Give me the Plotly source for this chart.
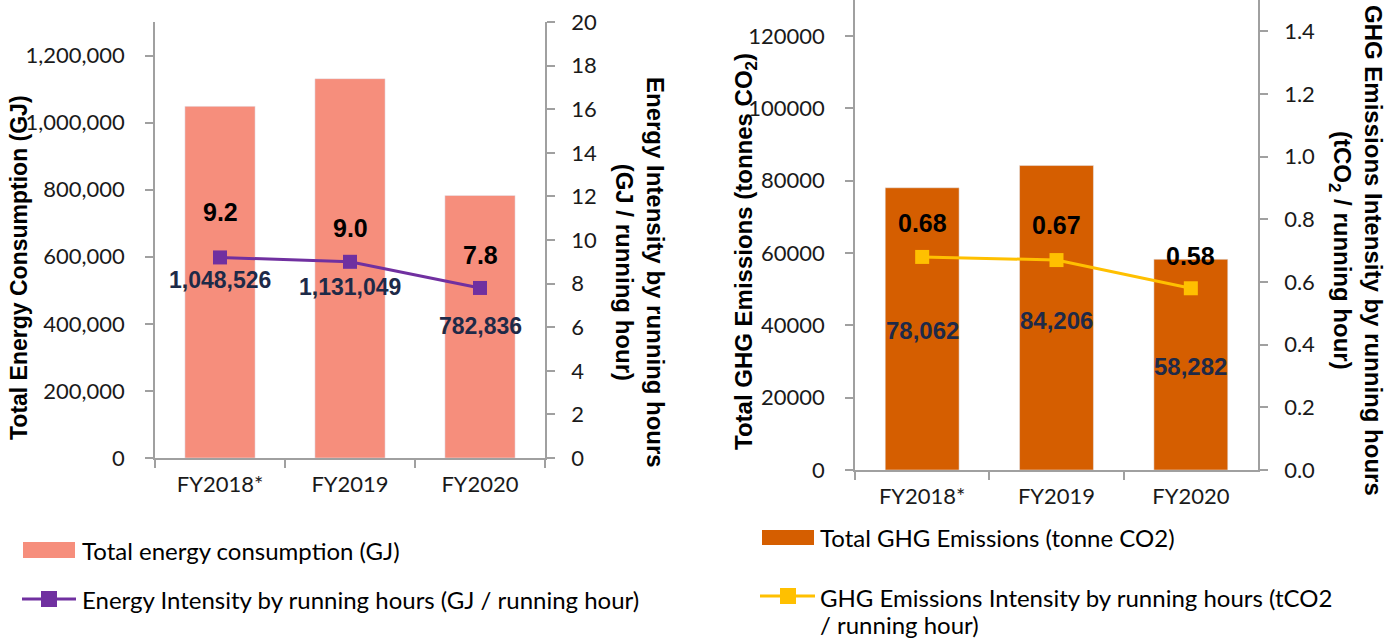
import plotly.graph_objects as go

# ---- data ----
years = ["FY2018*", "FY2019", "FY2020"]
energy_gj = [1048526, 1131049, 782836]
energy_intensity = [9.2, 9.0, 7.8]
ghg_tonnes = [78062, 84206, 58282]
ghg_intensity = [0.68, 0.67, 0.58]

# ---- styling ----
W, H = 1396, 641
PINK = "#F68E7C"
PURPLE = "#7030A0"
ORANGE = "#D55E00"
YELLOW = "#FFC000"
NAVY = "#1E2A48"
AXIS_GREY = "#A0A0A0"
TICK_FONT = dict(family="Lato, Liberation Sans, Arial", size=22, color="#1a1a1a")
LABEL_FONT = "Liberation Sans, Arial"

# vertical nudges (px) for value labels
energy_int_shift = [45, 34, 33]
energy_bar_shift = [2, -19, 1]
ghg_int_shift = [34, 35, 32]
ghg_bar_shift = [-2, -3, -2]


def px(x):
    return x / W


def py(y):
    return 1 - y / H


fig = go.Figure()

# left panel: energy
fig.add_trace(go.Bar(x=years, y=energy_gj, marker_color=PINK, width=0.54,
                     xaxis="x", yaxis="y", showlegend=False))
fig.add_trace(go.Scatter(x=years, y=energy_intensity, mode="lines+markers",
                         line=dict(color=PURPLE, width=3),
                         marker=dict(symbol="square", size=14, color=PURPLE),
                         xaxis="x", yaxis="y2", showlegend=False))

# right panel: GHG
fig.add_trace(go.Bar(x=years, y=ghg_tonnes, marker_color=ORANGE, width=0.55,
                     xaxis="x2", yaxis="y3", showlegend=False))
fig.add_trace(go.Scatter(x=years, y=ghg_intensity, mode="lines+markers",
                         line=dict(color=YELLOW, width=3),
                         marker=dict(symbol="square", size=14, color=YELLOW),
                         xaxis="x2", yaxis="y4", showlegend=False))

annotations = []

# value labels
for i, yr in enumerate(years):
    annotations.append(dict(x=yr, y=energy_intensity[i], xref="x", yref="y2",
                            text=f"{energy_intensity[i]:.1f}", showarrow=False,
                            yshift=energy_int_shift[i],
                            font=dict(family=LABEL_FONT, size=25, color="black", weight="bold")))
    annotations.append(dict(x=yr, y=energy_gj[i] / 2, xref="x", yref="y",
                            text=f"{energy_gj[i]:,}", showarrow=False,
                            yshift=energy_bar_shift[i],
                            font=dict(family=LABEL_FONT, size=23, color=NAVY, weight="bold")))
    annotations.append(dict(x=yr, y=ghg_intensity[i], xref="x2", yref="y4",
                            text=f"{ghg_intensity[i]:.2f}", showarrow=False,
                            yshift=ghg_int_shift[i],
                            font=dict(family=LABEL_FONT, size=25, color="black", weight="bold")))
    annotations.append(dict(x=yr, y=ghg_tonnes[i] / 2, xref="x2", yref="y3",
                            text=f"{ghg_tonnes[i]:,}", showarrow=False,
                            yshift=ghg_bar_shift[i],
                            font=dict(family=LABEL_FONT, size=24, color=NAVY, weight="bold")))


def title_font(size):
    return dict(family=LABEL_FONT, size=size, color="black", weight="bold")


def paper_note(x, y, text, font, **kw):
    d = dict(x=px(x), y=py(y), xref="paper", yref="paper", text=text,
             showarrow=False, font=font, xanchor="center", yanchor="middle")
    d.update(kw)
    return d


# axis titles
annotations += [
    paper_note(19, 268, "Total Energy Consumption (GJ)", title_font(23), textangle=-90),
    paper_note(640, 272, "Energy Intensity by running hours<br>(GJ / running hour)",
               title_font(24), textangle=90),
    paper_note(746, 252, "Total GHG Emissions (tonnes CO<sub>2</sub>)", title_font(24),
               textangle=-90),
    paper_note(1356, 250, "GHG Emissions Intensity by running hours<br>(tCO<sub>2</sub> / running hour)",
               title_font(24), textangle=90),
]

LEG_FONT = dict(family="Lato, Liberation Sans, Arial", size=24, color="black")

# legend texts
annotations += [
    paper_note(80, 550, "Total energy consumption (GJ)", LEG_FONT, xanchor="left"),
    paper_note(80, 599, "Energy Intensity by running hours (GJ / running hour)", LEG_FONT,
               xanchor="left"),
    paper_note(818, 537, "Total GHG Emissions (tonne CO2)", LEG_FONT, xanchor="left"),
    paper_note(818, 597, "GHG Emissions Intensity by running hours (tCO2", LEG_FONT,
               xanchor="left"),
    paper_note(818, 624, "/ running hour)", LEG_FONT, xanchor="left"),
]

# legend swatches
shapes = [
    dict(type="rect", xref="paper", yref="paper", x0=px(23), x1=px(75), y0=py(558), y1=py(542),
         fillcolor=PINK, line=dict(width=0)),
    dict(type="line", xref="paper", yref="paper", x0=px(22), x1=px(76), y0=py(599), y1=py(599),
         line=dict(color=PURPLE, width=3)),
    dict(type="rect", xref="paper", yref="paper", x0=px(41), x1=px(57), y0=py(607), y1=py(591),
         fillcolor=PURPLE, line=dict(width=0)),
    dict(type="rect", xref="paper", yref="paper", x0=px(762), x1=px(814), y0=py(545), y1=py(530),
         fillcolor=ORANGE, line=dict(width=0)),
    dict(type="line", xref="paper", yref="paper", x0=px(760), x1=px(815), y0=py(596), y1=py(596),
         line=dict(color=YELLOW, width=3)),
    dict(type="rect", xref="paper", yref="paper", x0=px(780), x1=px(796), y0=py(604), y1=py(588),
         fillcolor=YELLOW, line=dict(width=0)),
]

common_axis = dict(showline=True, linecolor=AXIS_GREY, linewidth=1.5, showgrid=False,
                   zeroline=False, ticks="outside", ticklen=8, tickcolor=AXIS_GREY,
                   tickwidth=1.5, tickfont=TICK_FONT, fixedrange=True, automargin=False)

fig.update_layout(
    width=W, height=H,
    margin=dict(l=0, r=0, t=0, b=0, autoexpand=False),
    paper_bgcolor="white", plot_bgcolor="white",
    showlegend=False,
    xaxis=dict(domain=[px(155), px(545)], anchor="y", type="category",
               tickson="boundaries", ticklabelstandoff=6, **common_axis),
    yaxis=dict(domain=[py(458), py(22)], anchor="x", range=[0, 1300000],
               tickvals=[0, 200000, 400000, 600000, 800000, 1000000, 1200000],
               tickformat=",", ticklabelstandoff=16, **common_axis),
    yaxis2=dict(overlaying="y", side="right", anchor="x", range=[0, 20], dtick=2,
                ticklabelstandoff=12, **common_axis),
    xaxis2=dict(domain=[px(855), px(1258)], anchor="y3", type="category",
                tickson="boundaries", ticklabelstandoff=6, **common_axis),
    yaxis3=dict(domain=[py(470), 1.0], anchor="x2", range=[0, 130000],
                tickvals=[0, 20000, 40000, 60000, 80000, 100000, 120000],
                tickformat="d", ticklabelstandoff=16, **common_axis),
    yaxis4=dict(overlaying="y3", side="right", anchor="x2", range=[0, 1.5],
                tickvals=[0, 0.2, 0.4, 0.6, 0.8, 1.0, 1.2, 1.4], tickformat=".1f",
                ticklabelstandoff=12, **common_axis),
    annotations=annotations,
    shapes=shapes,
)

fig.write_html("out.html")
